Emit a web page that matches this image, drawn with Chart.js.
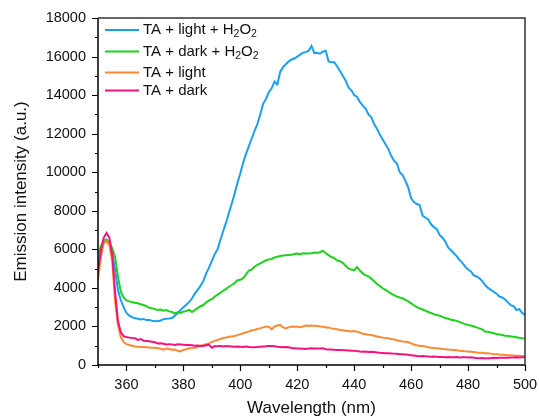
<!DOCTYPE html>
<html><head><meta charset="utf-8">
<script src="https://cdn.jsdelivr.net/npm/chart.js@4"></script>
<style>html,body{margin:0;padding:0;background:#fff}</style>
</head><body>
<canvas id="c" width="539" height="419"></canvas>
<script>
// ---- DATA ----
const startWavelength = 350, endWavelength = 500; // nm, 1 nm step
const seriesNames = ['TA + light + H_2O_2', 'TA + dark + H_2O_2', 'TA + light', 'TA + dark'];
const xTickLabels = [360, 380, 400, 420, 440, 460, 480, 500];
const yTickLabels = [0, 2000, 4000, 6000, 8000, 10000, 12000, 14000, 16000, 18000];

const lightH2O2 = [
 5300,6000,6450,6500,6300,5800,4930,3890,3370,3000,
 2700,2560,2480,2420,2400,2360,2390,2330,2340,2300,
 2280,2270,2310,2380,2400,2410,2440,2560,2700,2850,
 3000,3130,3260,3450,3700,3900,4100,4350,4750,5050,
 5400,5750,6000,6500,6950,7400,7900,8380,8900,9450,
 9950,10500,10950,11350,11750,12150,12500,13000,13550,13800,
 14150,14350,14700,14550,15200,15450,15600,15750,15850,15900,
 16000,16100,16200,16230,16300,16550,16180,16200,16150,16250,
 16300,15750,15700,15700,15500,15250,15000,14750,14400,14250,
 14000,13900,13650,13450,13300,13000,12850,12500,12250,11950,
 11700,11450,11200,10850,10600,10450,10000,9850,9550,9200,
 8650,8450,8350,8300,7750,7650,7550,7300,7150,7050,
 6750,6600,6400,6100,5950,5800,5650,5450,5300,5100,
 4950,4850,4650,4600,4500,4350,4150,4000,3900,3800,
 3700,3550,3500,3400,3250,3100,3050,2850,2900,2700,
 2600];
const darkH2O2 = [
 5750,6150,6450,6500,6350,6050,5600,4600,3800,3500,
 3350,3300,3250,3230,3200,3150,3110,3050,2970,2950,
 2900,2850,2880,2820,2850,2780,2750,2680,2740,2700,
 2770,2800,2860,2750,2850,2950,3050,3110,3250,3350,
 3420,3540,3650,3750,3850,3950,4060,4150,4250,4400,
 4420,4500,4700,4900,4950,5100,5200,5270,5350,5420,
 5480,5500,5580,5620,5650,5680,5690,5700,5720,5760,
 5780,5750,5800,5790,5780,5800,5840,5820,5850,5930,
 5800,5700,5600,5550,5420,5380,5300,5150,5000,4950,
 4920,5080,4900,4750,4650,4600,4480,4350,4200,4100,
 3980,3900,3800,3700,3620,3550,3500,3460,3380,3300,
 3200,3100,3000,2940,2880,2820,2750,2700,2640,2590,
 2560,2500,2440,2400,2350,2320,2290,2240,2170,2120,
 2080,2050,2000,1950,1900,1850,1740,1720,1690,1650,
 1610,1580,1560,1520,1500,1480,1460,1440,1410,1390,
 1380];
const lightOnly = [
 4400,5600,6300,6450,6200,5400,3300,2100,1450,1200,
 1080,1040,1000,960,950,940,930,920,910,900,
 890,870,845,800,860,830,790,800,740,700,
 780,820,865,880,900,950,1000,1040,1080,1120,
 1200,1250,1300,1350,1400,1430,1460,1480,1500,1550,
 1600,1650,1700,1730,1800,1820,1880,1900,1950,2000,
 1990,1850,2000,2050,2080,1950,1900,1950,2000,1980,
 1990,1960,2000,2050,2040,2050,2030,2020,2000,1990,
 1950,1950,1900,1880,1850,1815,1800,1780,1760,1740,
 1760,1730,1680,1620,1600,1570,1555,1520,1480,1450,
 1420,1400,1385,1350,1320,1280,1250,1220,1210,1180,
 1120,1060,1020,990,985,960,920,900,880,865,
 850,830,820,800,790,780,760,740,730,710,
 700,690,670,650,640,630,610,605,590,570,
 560,540,530,520,510,500,490,480,475,470,
 465];
const darkOnly = [
 4800,5900,6600,6850,6600,5700,3800,2300,1700,1500,
 1450,1420,1400,1385,1300,1350,1260,1250,1230,1210,
 1180,1120,1125,1100,1060,1080,1070,1040,1070,1060,
 1050,1040,1040,1020,1000,1010,990,985,1020,1050,
 900,985,970,990,960,980,970,960,950,960,
 950,940,960,930,920,915,930,950,960,970,
 985,980,970,950,940,920,930,915,880,870,
 860,850,840,830,860,870,860,850,860,865,
 820,800,810,790,780,780,760,760,750,740,
 740,720,700,690,700,680,690,670,650,630,
 620,610,605,600,590,580,560,555,550,530,
 500,490,470,460,465,450,440,430,435,430,
 420,410,400,410,400,400,410,390,400,400,
 390,400,380,360,350,360,340,345,350,370,
 360,380,380,370,380,390,385,400,390,400,
 400];

const seriesValues = [lightH2O2, darkH2O2, lightOnly, darkOnly];
const seriesColors = ['#1c9ff0', '#1cd21c', '#fb8a34', '#f5127f'];

// ---- BUILD ----
const FONT = '"Liberation Sans", Arial, sans-serif';
function toPoints(vals){ return vals.map((v,i)=>({x:startWavelength+i, y:v})); }

function drawRich(ctx, text, x, y, size){
  const parts = text.split(/_(\d)/);
  let cx = x;
  parts.forEach((p,i)=>{
    if(!p) return;
    const sub = i % 2 === 1;
    ctx.font = (sub ? size*0.7 : size) + 'px ' + FONT;
    ctx.fillText(p, cx, sub ? y + size*0.3 : y);
    cx += ctx.measureText(p).width;
  });
}

const framePlugin = {
  id: 'frame',
  afterDatasetsDraw(chart){
    const {ctx, chartArea:a, scales:{x, y}} = chart;
    ctx.save();
    ctx.strokeStyle = '#000'; ctx.lineWidth = 1.5;
    ctx.beginPath();
    ctx.moveTo(a.left, a.top); ctx.lineTo(a.left, a.bottom); ctx.lineTo(a.right, a.bottom);
    ctx.stroke();
    ctx.strokeStyle = '#333';
    ctx.beginPath();
    ctx.moveTo(a.left, a.top); ctx.lineTo(a.right, a.top); ctx.lineTo(a.right, a.bottom);
    ctx.stroke();
    ctx.strokeStyle = '#000'; ctx.lineWidth = 1.2;
    ctx.beginPath();
    for(let v=350; v<=500; v+=10){
      const px = Math.round(x.getPixelForValue(v)) + 0.5;
      const len = (v % 20 === 0) ? 6 : 3;
      ctx.moveTo(px, a.bottom); ctx.lineTo(px, a.bottom + len);
    }
    for(let v=0; v<=18000; v+=1000){
      const py = Math.round(y.getPixelForValue(v)) + 0.5;
      const len = (v % 2000 === 0) ? 6 : 3;
      ctx.moveTo(a.left, py); ctx.lineTo(a.left - len, py);
    }
    ctx.stroke();
    const rowsY = [30, 51.5, 72.5, 90.5];
    ctx.textBaseline = 'middle';
    ctx.fillStyle = '#111';
    seriesNames.forEach((name, i)=>{
      ctx.strokeStyle = seriesColors[i]; ctx.lineWidth = 2;
      ctx.beginPath(); ctx.moveTo(105, rowsY[i]); ctx.lineTo(139, rowsY[i]); ctx.stroke();
      drawRich(ctx, name, 143, rowsY[i], 15);
    });
    ctx.restore();
  }
};

new Chart(document.getElementById('c'), {
  type: 'line',
  data: {
    datasets: seriesValues.map((vals, i)=>({
      label: seriesNames[i],
      data: toPoints(vals),
      borderColor: seriesColors[i],
      backgroundColor: seriesColors[i],
      borderWidth: 2,
      pointRadius: 0,
      tension: 0,
      fill: false,
      order: 4 - i
    }))
  },
  options: {
    responsive: false,
    animation: false,
    events: [],
    layout: { padding: { top: 18, right: 14, left: 0, bottom: 0 } },
    plugins: { legend: { display: false }, tooltip: { enabled: false } },
    scales: {
      x: {
        type: 'linear', min: 350, max: 500,
        afterBuildTicks: s => { s.ticks = xTickLabels.map(v=>({value:v})); },
        afterFit: s => { s.height = 54; s.paddingLeft = 0; s.paddingRight = 0; },
        grid: { display: false, drawTicks: false },
        border: { display: false },
        ticks: { color: '#111', padding: 11, maxRotation: 0, autoSkip: false,
                 callback: v => String(v),
                 font: { family: FONT, size: 14.5 } },
        title: { display: true, text: 'Wavelength (nm)', color: '#111',
                 font: { family: FONT, size: 17 }, padding: { top: 0, bottom: 0 } }
      },
      y: {
        min: 0, max: 18000,
        afterBuildTicks: s => { s.ticks = yTickLabels.map(v=>({value:v})); },
        afterFit: s => { s.width = 98; s.paddingTop = 0; s.paddingBottom = 0; },
        grid: { display: false, drawTicks: false },
        border: { display: false },
        ticks: { color: '#111', padding: 12, callback: v => String(v),
                 font: { family: FONT, size: 14.5 } },
        title: { display: true, text: 'Emission intensity (a.u.)', color: '#111',
                 font: { family: FONT, size: 17 }, padding: { top: 11, bottom: 0 } }
      }
    }
  },
  plugins: [framePlugin]
});
</script>
</body></html>
